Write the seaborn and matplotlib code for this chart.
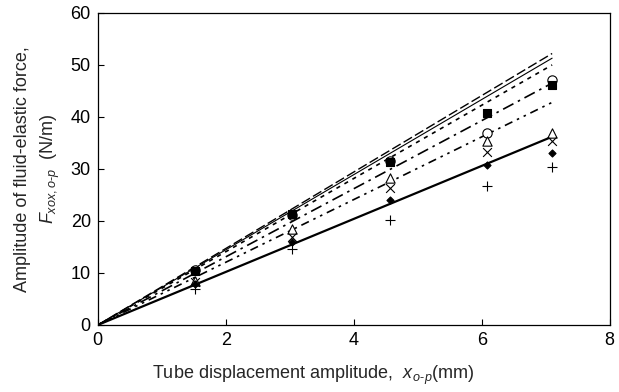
import matplotlib
matplotlib.use("Agg")
import matplotlib.pyplot as plt
import seaborn as sns
import pandas as pd

# ---- data ----
x_exp = [1.52, 3.04, 4.56, 6.08, 7.1]
circle = [10.5, 21.2, 31.6, 36.9, 47.2]
square = [10.3, 21.3, 31.4, 40.7, 46.2]
triangle = [8.4, 18.4, 28.2, 35.3, 36.9]
cross = [8.2, 17.0, 26.4, 33.3, 35.4]
diamond = [7.8, 16.0, 24.0, 30.8, 33.0]
plus = [7.0, 14.7, 20.2, 26.8, 30.3]

x_line = [0.0, 7.1]
line_longdash = [0.0, 52.2]
line_thin = [0.0, 51.3]
line_shortdash = [0.0, 50.0]
line_dashdot = [0.0, 46.5]
line_dashdotdot = [0.0, 42.8]
line_thick = [0.0, 36.2]

x_ticks = [0, 2, 4, 6, 8]
y_ticks = [0, 10, 20, 30, 40, 50, 60]

sns.set_style("ticks")
plt.rcParams['font.family'] = ['Liberation Sans', 'DejaVu Sans']
plt.rcParams['mathtext.fontset'] = 'custom'
plt.rcParams['mathtext.rm'] = 'Liberation Sans'
plt.rcParams['mathtext.it'] = 'Liberation Sans:italic'
plt.rcParams['xtick.direction'] = 'in'
plt.rcParams['ytick.direction'] = 'in'

fig = plt.figure(figsize=(6.19, 3.92), dpi=100)
ax = fig.add_axes([0.158, 0.171, 0.827, 0.796])

lines = [
    (line_longdash, (0, (7, 2.5)), 1.0),
    (line_thin, '-', 0.8),
    (line_shortdash, (0, (2.5, 3)), 1.2),
    (line_dashdot, (0, (7, 3, 1.5, 3)), 1.2),
    (line_dashdotdot, (0, (5, 3, 1.5, 3, 1.5, 3)), 1.2),
    (line_thick, '-', 1.6),
]
for vals, ls, lw in lines:
    df = pd.DataFrame({'x': x_line, 'y': vals})
    sns.lineplot(data=df, x='x', y='y', ax=ax, color='black', linestyle=ls,
                 linewidth=lw, legend=False)

markers = [
    (circle, 'o', 'white', 45),
    (square, 's', 'black', 28),
    (triangle, '^', 'white', 45),
    (cross, 'x', 'black', 40),
    (diamond, 'D', 'black', 13),
    (plus, '+', 'black', 55),
]
for vals, m, fc, s in markers:
    df = pd.DataFrame({'x': x_exp, 'y': vals})
    sns.scatterplot(data=df, x='x', y='y', ax=ax, marker=m, s=s,
                    color=fc if m not in ('x', '+') else 'black',
                    edgecolor='black', linewidth=0.8, legend=False, zorder=5)

ax.set_xlim(0, 8)
ax.set_ylim(0, 60)
ax.set_xticks(x_ticks)
ax.set_yticks(y_ticks)
ax.tick_params(labelsize=13, length=4, width=0.8, color='black', labelcolor='black',
               top=False, right=False, pad=5)
for sp in ax.spines.values():
    sp.set_visible(True)
    sp.set_color('black')
    sp.set_linewidth(0.9)

ax.set_xlabel(r'Tube displacement amplitude,  $x_{\,o\text{-}p}$(mm)', fontsize=13)
ax.xaxis.set_label_coords(0.42, -0.125)
ax.set_ylabel('Amplitude of fluid-elastic force,\n' + r'$F_{xox,o\text{-}p}$  (N/m)', fontsize=13,
              labelpad=6, linespacing=1.55)

fig.savefig('out.png', dpi=100)
